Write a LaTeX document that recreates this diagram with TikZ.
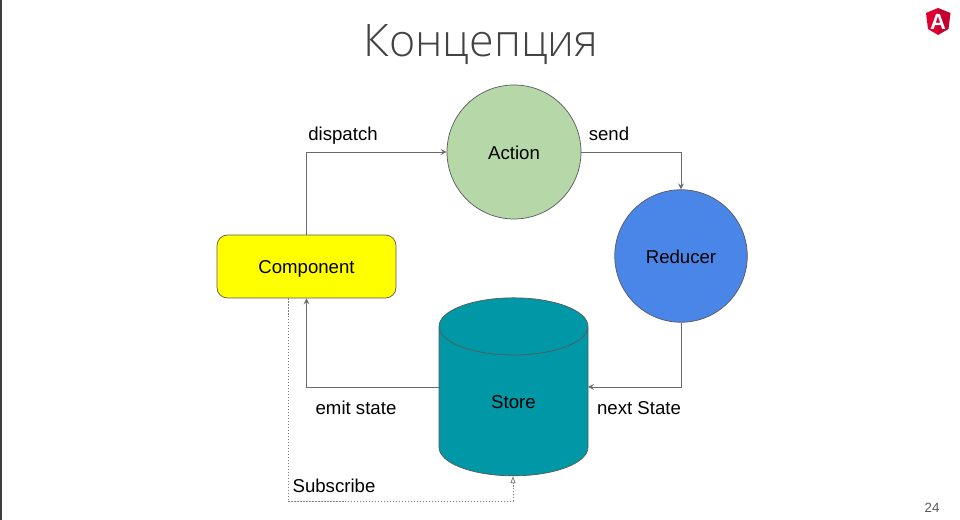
\documentclass[tikz,border=0pt]{standalone}
\usepackage{xcolor}
\usepackage{fontspec}
\setmainfont{Liberation Sans}
\newfontfamily\titlefont{Open Sans Light}
\usetikzlibrary{shapes.geometric, arrows, arrows.meta, calc}

\definecolor{actiongreen}{HTML}{B6D7A8}
\definecolor{reducerblue}{HTML}{4A86E8}
\definecolor{storeteal}{HTML}{0097A7}
\definecolor{compyellow}{HTML}{FFFF00}
\definecolor{linegray}{HTML}{595959}
\definecolor{dotgray}{HTML}{808080}
\definecolor{stripegray}{HTML}{3C4043}
\definecolor{titlegray}{HTML}{434343}
\definecolor{logored}{HTML}{DD0031}
\definecolor{logodark}{HTML}{C3002F}

\begin{document}
\begin{tikzpicture}[node distance=2cm]

\tikzstyle{component} = [rectangle, rounded corners=6pt, text centered, text height=9.9pt, text depth=2.2pt, draw=linegray, fill=compyellow, minimum width=3.58cm, minimum height=1.26cm]
\tikzstyle{action} = [circle, text centered, text height=8.6pt, text depth=0pt, draw=linegray, fill=actiongreen, minimum size=2.68cm]
\tikzstyle{reducer} = [circle, text centered, text height=8.6pt, text depth=0pt, draw=linegray, fill=reducerblue, minimum size=2.65cm]
\tikzstyle{store} = [cylinder, shape border rotate=90, aspect=4.6, draw=linegray, fill=storeteal, minimum width=2.98cm, minimum height=3.56cm]
\tikzstyle{label} = [inner sep=0pt]

\tikzstyle{arrow} = [line width=0.5pt, draw=linegray!90!white, ->, >=stealth]
\tikzstyle{dotarrow} = [line width=0.45pt, draw=dotgray, dash pattern=on 0.7pt off 1pt, -{Triangle[open, length=4pt, width=3pt]}]

\useasboundingbox (0,0) rectangle (19.2,10.4);
\fill [stripegray] (0,0) rectangle (0.04,10.4);

\fontsize{10.6}{12}\selectfont

\node (title) [label, text=titlegray] at (9.62,9.5) {\titlefont\fontsize{25.5}{30}\selectfont Концепция};
\node (page) [label, text=linegray] at (18.64,0.25) {\fontsize{7.6}{9}\selectfont 24};

\node (component) [component] at (6.13,5.07) {Component};
\node (action) [action, right of = component, xshift = 2.15cm, yshift = 2.29cm] {Action};
\node (reducer) [reducer, below of = action, xshift = 3.34cm, yshift = -0.08cm] {Reducer};
\node (store) [store, below of = reducer, xshift = -3.35cm, yshift = -1.02cm] {};
\node (storetext) [label, below of = store, yshift = 2.1cm] {Store};

\node (dispatch) [label] at (6.86,7.68) {dispatch};
\node (send) [label] at (12.18,7.72) {send};
\node (emit) [label] at (7.12,2.24) {emit state};
\node (next) [label] at (12.78,2.24) {next State};
\node (subscribe) [label] at (6.68,0.68) {Subscribe};

\coordinate (storeright) at (11.76,2.66);
\coordinate (storeleft) at (8.78,2.66);
\coordinate (corner) at (5.76,0.38);
\coordinate (under) at (10.26,0.38);

\draw [arrow] (component) |- (action);
\draw [arrow] (action) -| (reducer);
\draw [arrow] (reducer) |- (storeright);
\draw [arrow] (storeleft) -| (component);
\draw [dotarrow] (component.south -| corner) -- (corner) -- (under) -- (store.south -| under);

% logo
\fill [logored] (18.76,10.24) -- (18.52,10.14) -- (18.56,9.82) -- (18.76,9.70) -- cycle;
\fill [logodark] (18.76,10.24) -- (19.01,10.14) -- (18.97,9.82) -- (18.76,9.70) -- cycle;
\node (logo) [label, text=white] at (18.76,9.96) {\fontsize{12.5}{14}\selectfont\bfseries A};

\end{tikzpicture}
\end{document}
